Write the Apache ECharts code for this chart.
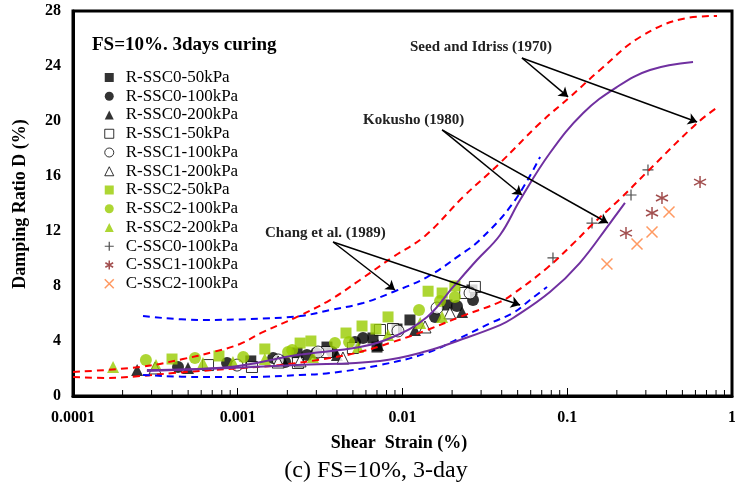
<!DOCTYPE html>
<html>
<head>
<meta charset="utf-8">
<script src="https://cdn.jsdelivr.net/npm/echarts@6/dist/echarts.min.js"></script>
<style>
  html, body { margin: 0; padding: 0; background: #fff; }
  #chart { width: 735px; height: 486px; }
</style>
</head>
<body>
<div id="chart"></div>
<script>
const FONT = '"Liberation Serif", "Times New Roman", serif'

// axis ticks
const xTickLabels = { '-4': '0.0001', '-3': '0.001', '-2': '0.01', '-1': '0.1', '0': '1' }
const xMinorTicks = [
  0.0002, 0.0003, 0.0004, 0.0005, 0.0006, 0.0007, 0.0008, 0.0009,
  0.002, 0.003, 0.004, 0.005, 0.006, 0.007, 0.008, 0.009,
  0.02, 0.03, 0.04, 0.05, 0.06, 0.07, 0.08, 0.09,
  0.2, 0.3, 0.4, 0.5, 0.6, 0.7, 0.8, 0.9
]

// reference curves [shear strain %, damping %]
const seedUpper = [[0.0001, 1.75], [0.000255, 2.11], [0.000465, 2.69], [0.000708, 3.2], [0.00103, 3.78],
  [0.00142, 4.65], [0.00229, 5.75], [0.00363, 6.98], [0.00552, 8.44], [0.00875, 10.11], [0.0137, 11.64],
  [0.0233, 14.47], [0.0391, 16.95], [0.0684, 19.85], [0.104, 21.75], [0.158, 23.71], [0.277, 26.11],
  [0.533, 27.49], [0.811, 27.64]]
const seedLower = [[0.0001, 1.38], [0.000159, 1.31], [0.000255, 1.45], [0.000405, 1.67], [0.000708, 1.89],
  [0.00108, 2.04], [0.0018, 2.25], [0.00363, 2.76], [0.00552, 3.2], [0.00875, 3.93], [0.0141, 4.8],
  [0.0223, 5.75], [0.0391, 6.84], [0.0469, 7.42], [0.0754, 9.31], [0.108, 11.05], [0.143, 12.51],
  [0.209, 14.33], [0.305, 16.29], [0.614, 19.85], [0.822, 21.02]]
const changUpper = [[0.000266, 5.82], [0.00059, 5.53], [0.00119, 5.6], [0.00239, 5.82], [0.00363, 6.25],
  [0.00576, 6.76], [0.00875, 7.56], [0.0141, 8.65], [0.0223, 10.25], [0.0295, 11.35], [0.0469, 14.04],
  [0.0684, 17.38]]
const changLower = [[0.000266, 1.53], [0.00059, 1.38], [0.00119, 1.38], [0.00239, 1.53], [0.00363, 1.67],
  [0.0073, 2.25], [0.0141, 3.13], [0.0223, 4.22], [0.0354, 5.38], [0.0469, 6.04], [0.0594, 6.98],
  [0.0754, 7.93]]
const kokushoUpper = [[0.000281, 1.89], [0.000897, 2.11], [0.00229, 2.98], [0.00552, 3.56], [0.00875, 4.29],
  [0.0141, 5.75], [0.0203, 7.93], [0.0283, 9.89], [0.0391, 11.71], [0.0517, 14.25], [0.0785, 17.67],
  [0.125, 20.58], [0.2, 22.47], [0.318, 23.71], [0.58, 24.29]]
const kokushoLower = [[0.000281, 1.82], [0.000897, 2.04], [0.00229, 2.25], [0.0073, 2.55], [0.0141, 3.27],
  [0.0223, 4.07], [0.0391, 5.16], [0.0469, 5.67], [0.0785, 7.56], [0.119, 9.67], [0.182, 12.58],
  [0.224, 14.04]]

// test data [shear strain %, damping %]
const rSsc0_50 = [[0.0012, 2.55], [0.00229, 3.13], [0.00348, 3.56], [0.00662, 4.22], [0.007, 3.56],
  [0.00926, 4.87], [0.0111, 5.53], [0.0186, 6.62], [0.0264, 7.71]]
const rSsc0_100 = [[0.000434, 2.11], [0.000861, 2.4], [0.00164, 2.76], [0.00194, 2.47], [0.00263, 2.98],
  [0.00299, 3.13], [0.00373, 3.2], [0.00515, 3.93], [0.00576, 4.22], [0.01575, 5.75], [0.0214, 6.55],
  [0.0268, 6.98]]
const rSsc0_200 = [[0.000245, 1.89], [0.000499, 2.04], [0.00188, 2.62], [0.004, 2.98], [0.0071, 3.71],
  [0.0119, 4.8], [0.023, 6.11]]
const rSsc1_50 = [[0.00066, 2.25], [0.00122, 2.11], [0.00232, 2.4], [0.00348, 3.2], [0.005, 3.49],
  [0.0073, 4.8], [0.00876, 4.87], [0.024, 7.49], [0.0275, 7.93]]
const rSsc1_100 = [[0.00099, 2.25], [0.00176, 2.62], [0.00307, 3.2], [0.00939, 4.73], [0.0162, 6.4],
  [0.0257, 7.49]]
const rSsc1_200 = [[0.000315, 2.04], [0.00176, 2.47], [0.00239, 2.55], [0.00435, 2.76], [0.0137, 5.02],
  [0.0194, 6.04]]
const rSsc2_50 = [[0.000399, 2.69], [0.000769, 2.91], [0.00146, 3.42], [0.00239, 3.85], [0.00278, 4.0],
  [0.00454, 4.58], [0.00568, 5.09], [0.0069, 4.87], [0.00817, 5.75], [0.0143, 7.62], [0.0174, 7.49],
  [0.0208, 8.0]]
const rSsc2_100 = [[0.000277, 2.62], [0.00055, 2.76], [0.00108, 2.84], [0.00202, 3.2], [0.00214, 3.35],
  [0.00389, 3.85], [0.00474, 3.93], [0.0126, 6.25], [0.0169, 6.91], [0.0208, 7.2]]
const rSsc2_200 = [[0.000175, 2.11], [0.000319, 2.25], [0.000615, 2.4], [0.000935, 2.47], [0.00146, 2.69],
  [0.00286, 2.84], [0.00537, 3.56], [0.00817, 4.44], [0.0128, 5.31], [0.0174, 5.75]]
const cSsc0_100 = [[0.0819, 10.04], [0.1413, 12.58], [0.2438, 14.62], [0.309, 16.44]]
const cSsc1_100 = [[0.2273, 11.85], [0.327, 13.31], [0.3758, 14.4], [0.6397, 15.56]]
const cSsc2_100 = [[0.1742, 9.6], [0.2651, 11.05], [0.327, 11.93], [0.4146, 13.38]]

// annotation arrows: [from, to]
const arrows = [
  [[0.0531, 24.58], [0.1012, 21.75]],
  [[0.0531, 24.58], [0.614, 19.93]],
  [[0.0174, 19.35], [0.0531, 14.62]],
  [[0.0174, 19.35], [0.1766, 12.58]],
  [[0.00379, 11.2], [0.009, 7.71]],
  [[0.00379, 11.2], [0.0517, 6.62]]
]

const GREEN = '#99cc00'
const PLUS = 'path://M0,5L10,5M5,0L5,10'
const STAR = 'path://M5,0L5,10M0.67,2.5L9.33,7.5M0.67,7.5L9.33,2.5'
const CROSS = 'path://M0,0L10,10M0,10L10,0'

const scatterDefs = [
  { name: 'R-SSC0-50kPa', data: rSsc0_50, symbol: 'rect', size: 11, style: { color: '#000' } },
  { name: 'R-SSC0-100kPa', data: rSsc0_100, symbol: 'circle', size: 12, style: { color: '#000' } },
  { name: 'R-SSC0-200kPa', data: rSsc0_200, symbol: 'triangle', size: 12, style: { color: '#000' } },
  { name: 'R-SSC1-50kPa', data: rSsc1_50, symbol: 'rect', size: 11, style: { color: '#fff', borderColor: '#000', borderWidth: 1 } },
  { name: 'R-SSC1-100kPa', data: rSsc1_100, symbol: 'circle', size: 12, style: { color: '#fff', borderColor: '#000', borderWidth: 1 } },
  { name: 'R-SSC1-200kPa', data: rSsc1_200, symbol: 'triangle', size: 12, style: { color: '#fff', borderColor: '#000', borderWidth: 1 } },
  { name: 'R-SSC2-50kPa', data: rSsc2_50, symbol: 'rect', size: 11, style: { color: GREEN } },
  { name: 'R-SSC2-100kPa', data: rSsc2_100, symbol: 'circle', size: 12, style: { color: GREEN } },
  { name: 'R-SSC2-200kPa', data: rSsc2_200, symbol: 'triangle', size: 12, style: { color: GREEN } },
  { name: 'C-SSC0-100kPa', data: cSsc0_100, symbol: PLUS, size: 11, style: { color: 'transparent', borderColor: '#222', borderWidth: 1.2 } },
  { name: 'C-SSC1-100kPa', data: cSsc1_100, symbol: STAR, size: 12, style: { color: 'transparent', borderColor: '#8b2323', borderWidth: 1.5 } },
  { name: 'C-SSC2-100kPa', data: cSsc2_100, symbol: CROSS, size: 11, style: { color: 'transparent', borderColor: '#ff7f3a', borderWidth: 1.5 } }
]

function curve(data, color, dashed) {
  return {
    type: 'line',
    data: data,
    smooth: 0.4,
    showSymbol: false,
    silent: true,
    z: 4,
    lineStyle: { color: color, width: 2, type: dashed ? [7, 5] : 'solid' }
  }
}

let series = scatterDefs.map(d => ({
  name: d.name,
  type: 'scatter',
  data: d.data,
  symbol: d.symbol,
  symbolSize: d.size,
  itemStyle: d.style,
  z: 3
}))

let seedSeries = curve(seedUpper, '#ff0000', true)
seedSeries.markLine = {
  silent: true,
  symbol: ['none', 'arrow'],
  symbolSize: 9,
  label: { show: false },
  lineStyle: { color: '#000', width: 1.5, type: 'solid' },
  data: arrows.map(a => [{ coord: a[0] }, { coord: a[1] }])
}

series = series.concat([
  seedSeries,
  curve(seedLower, '#ff0000', true),
  curve(changUpper, '#0000ff', true),
  curve(changLower, '#0000ff', true),
  curve(kokushoUpper, '#7030a0', false),
  curve(kokushoLower, '#7030a0', false),
  {
    type: 'custom',
    data: xMinorTicks.map(v => [v, 0]),
    silent: true,
    z: 5,
    renderItem: function (params, api) {
      let p = api.coord([api.value(0), 0])
      return {
        type: 'line',
        shape: { x1: p[0], y1: p[1], x2: p[0], y2: p[1] - 6 },
        style: { stroke: '#000', lineWidth: 1 }
      }
    }
  }
])

const option = {
  animation: false,
  grid: { left: 73, right: 3, top: 11, bottom: 90, show: true, borderColor: '#000', borderWidth: 3, outerBoundsMode: 'none' },
  xAxis: {
    type: 'log',
    logBase: 10,
    min: 0.0001,
    max: 1,
    axisLine: { lineStyle: { color: '#000', width: 3 } },
    axisTick: { inside: true, length: 8, lineStyle: { color: '#000', width: 1 } },
    splitLine: { show: false },
    axisLabel: {
      margin: 14,
      color: '#000',
      fontFamily: FONT,
      fontWeight: 'bold',
      fontSize: 16,
      formatter: v => xTickLabels[String(Math.round(Math.log10(v)))] || ''
    }
  },
  yAxis: {
    type: 'value',
    min: 0,
    max: 28,
    interval: 4,
    axisLine: { show: true, lineStyle: { color: '#000', width: 3 } },
    axisTick: { show: false },
    splitLine: { show: false },
    axisLabel: { margin: 12, color: '#000', fontFamily: FONT, fontWeight: 'bold', fontSize: 16 }
  },
  legend: {
    orient: 'vertical',
    left: 99,
    top: 64,
    itemWidth: 9,
    itemHeight: 9,
    itemGap: 1.75,
    textStyle: { fontFamily: FONT, fontSize: 17, color: '#000', lineHeight: 17, padding: [0, 0, 0, 7] },
    data: scatterDefs.map(d => ({ name: d.name, itemStyle: { borderWidth: d.style.borderWidth || 0 } }))
  },
  graphic: [
    { type: 'text', left: 92, top: 36, style: { text: 'FS=10%. 3days curing', font: 'bold 19px ' + FONT, fill: '#000' } },
    { type: 'text', x: 410, y: 47, style: { text: 'Seed and Idriss (1970)', font: 'bold 15px ' + FONT, fill: '#222', verticalAlign: 'middle' } },
    { type: 'text', x: 363, y: 120, style: { text: 'Kokusho (1980)', font: 'bold 15px ' + FONT, fill: '#222', verticalAlign: 'middle' } },
    { type: 'text', x: 265, y: 233, style: { text: 'Chang et al. (1989)', font: 'bold 15px ' + FONT, fill: '#222', verticalAlign: 'middle' } },
    { type: 'text', x: 399, y: 443, style: { text: 'Shear  Strain (%)', font: 'bold 18px ' + FONT, fill: '#000', align: 'center', verticalAlign: 'middle' } },
    { type: 'text', x: 20, y: 204, rotation: Math.PI / 2, style: { text: 'Damping Ratio D (%)', font: 'bold 18px ' + FONT, fill: '#000', align: 'center', verticalAlign: 'middle' } },
    { type: 'text', x: 376, y: 471, style: { text: '(c) FS=10%, 3-day', font: '24px ' + FONT, fill: '#000', align: 'center', verticalAlign: 'middle' } }
  ],
  series: series
}

let myChart = echarts.init(document.getElementById('chart'))
myChart.setOption(option)
</script>
</body>
</html>
